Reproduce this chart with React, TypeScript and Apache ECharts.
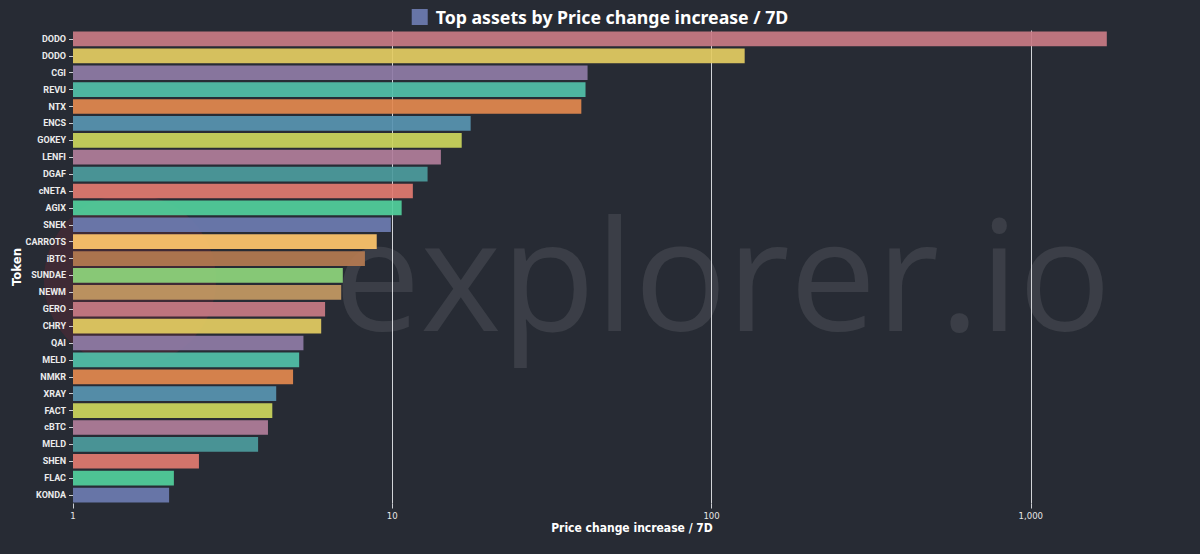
import React, { useEffect, useRef } from 'react';
import * as echarts from 'echarts';

const tokens = [
  'DODO', 'DODO', 'CGI', 'REVU', 'NTX', 'ENCS', 'GOKEY', 'LENFI', 'DGAF', 'cNETA',
  'AGIX', 'SNEK', 'CARROTS', 'iBTC', 'SUNDAE', 'NEWM', 'GERO', 'CHRY', 'QAI', 'MELD',
  'NMKR', 'XRAY', 'FACT', 'cBTC', 'MELD', 'SHEN', 'FLAC', 'KONDA',
];

const values = [
  1730, 127, 40.9, 40.3, 39.1, 17.6, 16.5, 14.2, 12.9, 11.6,
  10.7, 9.9, 8.94, 8.21, 7.0, 6.92, 6.16, 5.99, 5.27, 5.11,
  4.89, 4.33, 4.21, 4.08, 3.8, 2.48, 2.07, 2.0,
];

const palette = [
  '#c87a84', '#e3cb62', '#8f7ba6', '#52bfa9', '#e2884f', '#5893b0', '#cbd55d', '#b07d9a',
  '#4c9b9d', '#e17a70', '#52cf9c', '#6d7bb0', '#fec56c', '#b47a51', '#8ed47c', '#c49963',
];

const seriesName = 'Top assets by Price change increase / 7D';
const xAxisName = 'Price change increase / 7D';
const yAxisName = 'Token';
const xMin = 1;
const xMax = 3175;
const watermark = 'explorer.io';

export default function App() {
  const ref = useRef<HTMLDivElement>(null);
  useEffect(() => {
    if (!ref.current) return;
    const chart = echarts.init(ref.current, null, { renderer: 'svg' });
    const condFont = '"DejaVu Sans Condensed", sans-serif';
    chart.setOption({
      animation: false,
      backgroundColor: '#272b34',
      graphic: [
        {
          type: 'circle',
          z: -10,
          shape: { cx: 130, cy: 280, r: 86 },
          style: { fill: 'rgba(190,40,60,0.16)' },
        },
        {
          type: 'text',
          z: -10,
          left: 334,
          top: 194,
          style: {
            text: watermark,
            fontFamily: '"Open Sans", sans-serif',
            fontSize: 154,
            fill: 'rgba(255,255,255,0.095)',
          },
        },
      ],
      legend: {
        data: [seriesName],
        top: 3,
        left: 'center',
        icon: 'rect',
        itemWidth: 16,
        itemHeight: 16,
        textStyle: {
          color: '#ffffff',
          fontSize: 17.7,
          fontWeight: 'bold',
          fontFamily: '"Noto Sans", sans-serif',
          padding: [0, 0, 0, 3],
        },
      },
      grid: {
        left: 73,
        right: 9,
        top: 30.5,
        bottom: 50.5,
        containLabel: false,
        outerBoundsMode: 'none',
      },
      xAxis: {
        type: 'log',
        logBase: 10,
        min: xMin,
        max: xMax,
        name: xAxisName,
        nameLocation: 'middle',
        nameGap: 18,
        nameMoveOverlap: false,
        nameTextStyle: {
          color: '#ffffff',
          fontSize: 12,
          fontWeight: 'bold',
          fontFamily: condFont,
        },
        axisLine: { show: false },
        axisTick: { show: true, length: 5, lineStyle: { color: '#c9ccd1' } },
        axisLabel: {
          color: '#e6e6e6',
          fontSize: 9.5,
          margin: 7,
          fontFamily: condFont,
          showMaxLabel: false,
          formatter: (v: number) => v.toLocaleString('en-US'),
        },
        splitLine: {
          show: true,
          showMinLine: false,
          showMaxLine: false,
          lineStyle: { color: '#d2d4d8', width: 1 },
        },
      },
      yAxis: {
        type: 'category',
        inverse: true,
        data: tokens,
        name: yAxisName,
        nameLocation: 'middle',
        nameGap: 50,
        nameMoveOverlap: false,
        nameTextStyle: {
          color: '#ffffff',
          fontSize: 13,
          fontWeight: 'bold',
          fontFamily: condFont,
        },
        axisLine: { show: false },
        axisTick: { show: true, length: 4, alignWithLabel: true, lineStyle: { color: '#c9ccd1' } },
        axisLabel: {
          color: '#ececec',
          fontSize: 9,
          fontWeight: 'bold',
          margin: 7,
          fontFamily: 'Roboto, sans-serif',
        },
        splitLine: { show: false },
      },
      series: [
        {
          name: seriesName,
          type: 'bar',
          barCategoryGap: '13%',
          itemStyle: { color: '#6d7bb0', opacity: 0.93 },
          data: values.map((v, i) => ({
            value: v,
            itemStyle: { color: palette[i % palette.length] },
          })),
        },
      ],
    });
    return () => chart.dispose();
  }, []);
  return (
    <div
      ref={ref}
      style={{ position: 'absolute', left: 0, top: 0, width: 1200, height: 554 }}
    />
  );
}
